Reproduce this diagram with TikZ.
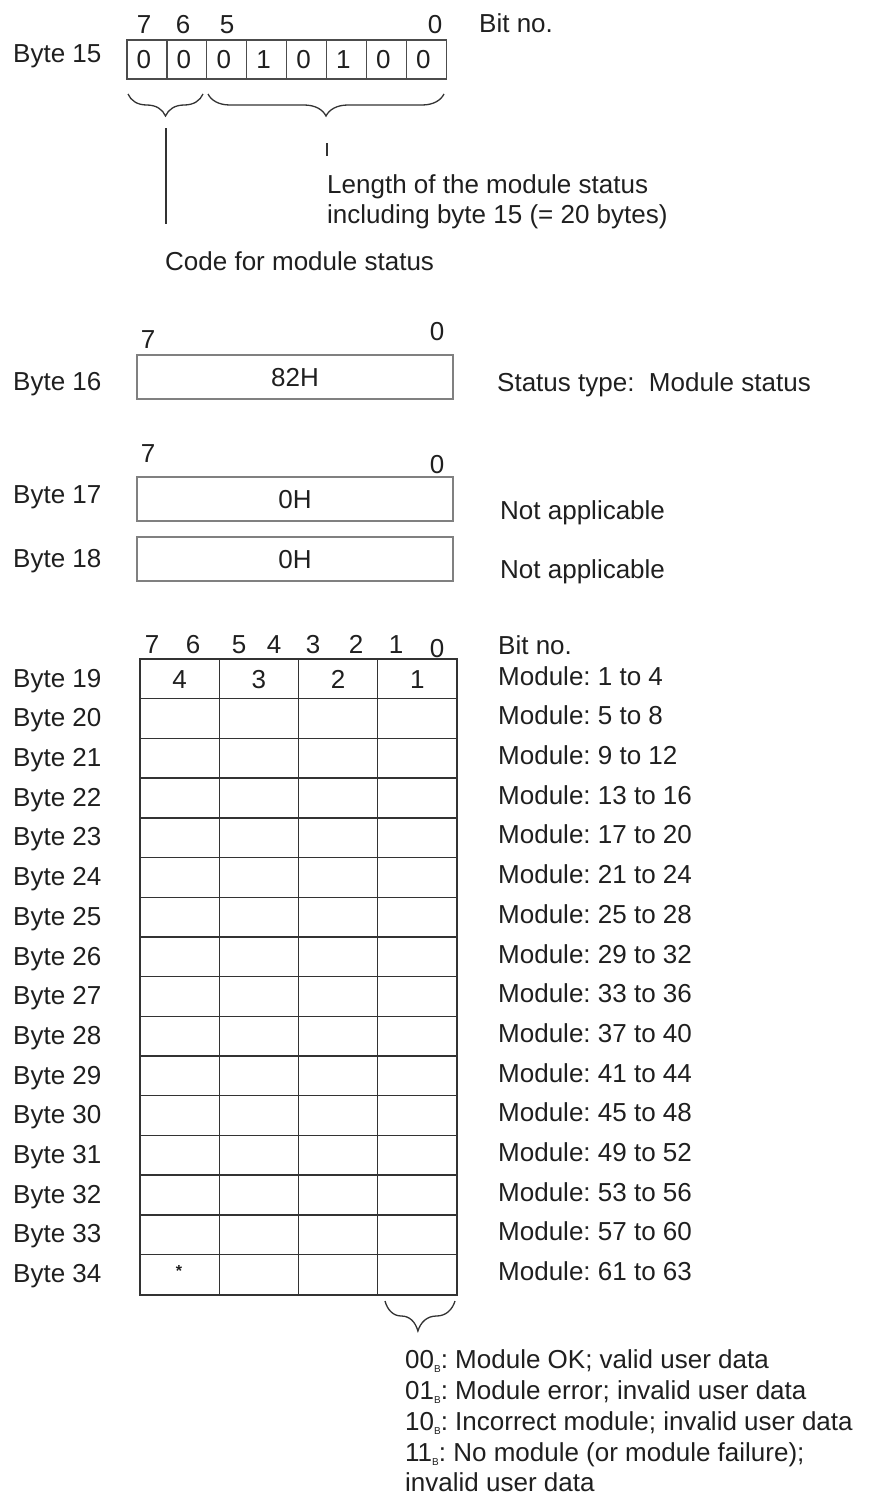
\documentclass[tikz,border=0pt]{standalone}
\usepackage{fontspec}
\setmainfont{Liberation Sans}
\usetikzlibrary{decorations.pathreplacing}
\newcommand\subB{\raisebox{-4pt}{\fontsize{10}{10}\selectfont B}}
\frenchspacing
\begin{document}
\frenchspacing
\begin{tikzpicture}[x=1pt,y=-1pt,
  lbl/.style={anchor=west, inner sep=0pt, text height=18.6pt, text depth=0pt,
    font=\fontsize{26}{30}\selectfont\frenchspacing, text=black!88},
  ctr/.style={lbl, anchor=center},
  bitcell/.style={draw=black!70, line width=1.3pt, minimum width=39.9pt, minimum height=39pt,
    inner sep=0pt, text height=18.6pt, text depth=0pt, font=\fontsize{26}{30}\selectfont, text=black!88},
  bytebox/.style={draw=black!50, line width=1.8pt, minimum width=316pt, minimum height=44pt,
    inner sep=0pt, text height=18.6pt, text depth=0pt, font=\fontsize{26}{30}\selectfont, text=black!88},
  gcell/.style={draw=black!80, line width=1.4pt, minimum width=79.25pt, minimum height=39.7pt,
    inner sep=0pt, text height=18.6pt, text depth=0pt, font=\fontsize{26}{30}\selectfont, text=black!88},
  bracedec/.style={decorate, draw=black!80, line width=1.3pt},
  conn/.style={draw=black!80, line width=1.3pt}]
\useasboundingbox (0,0) rectangle (877,1499);

% ---- Byte 15 ----
\node[lbl] (l15) at (13,53) {Byte 15};
\foreach \v [count=\i from 0] in {0,0,0,1,0,1,0,0} {
  \node[bitcell] (c15-\i) at ({127+39.9*(\i+0.5)},59.5) {\hspace{-6pt}\v};
}
\node[ctr] (h15a) at (144,24) {7};
\node[ctr] (h15b) at (183,24) {6};
\node[ctr] (h15c) at (227,24) {5};
\node[ctr] (h15d) at (435,24) {0};
\node[lbl] (bitno1) at (479,23) {Bit no.};

\coordinate (br1s) at (128,94);
\coordinate (br1e) at (203,94);
\coordinate (br2s) at (208,94);
\coordinate (br2e) at (444,94);
\draw[bracedec, decoration={brace, mirror, amplitude=22pt}] (br1s) -- (br1e);
\draw[bracedec, decoration={brace, mirror, amplitude=22pt}] (br2s) -- (br2e);

\coordinate (v1a) at (166,128);
\coordinate (v2a) at (327,143);
\node[lbl] (len1) at (327,184) {Length of the module status};
\node[lbl] (len2) at (327,214) {including byte 15 (= 20 bytes)};
\node[lbl] (code) at (165,261) {Code for module status};
\draw[conn] (v1a) -- (166,224);
\draw[conn] (v2a) -- (327,156);

% ---- Byte 16 ----
\node[ctr] (h16a) at (148,339) {7};
\node[ctr] (h16b) at (437,331) {0};
\node[lbl] (l16) at (13,381) {Byte 16};
\node[bytebox] (b16) at (295,377) {82H};
\node[lbl] (s16) at (497,382) {Status type:\ \ Module status};

% ---- Byte 17 / 18 ----
\node[ctr] (h17a) at (148,453) {7};
\node[ctr] (h17b) at (437,464) {0};
\node[lbl] (l17) at (13,494) {Byte 17};
\node[bytebox] (b17) at (295,499) {0H};
\node[lbl] (s17) at (500,510) {Not applicable};
\node[lbl] (l18) at (13,558) {Byte 18};
\node[bytebox] (b18) at (295,559) {0H};
\node[lbl] (s18) at (500,569) {Not applicable};

% ---- Byte 19..34 grid ----
\foreach \t/\x in {7/152,6/193,5/239,4/274,3/313,2/356,1/396} {
  \node[ctr] (hg\t) at (\x,644) {\t};
}
\node[ctr] (hg0) at (437,648) {0};
\node[lbl] (bitno2) at (498,645) {Bit no.};

\foreach \r [count=\b from 19] in {0,...,15} {
  \foreach \c in {0,...,3} {
    \node[gcell] (g-\r-\c) at ({140+79.25*(\c+0.5)},{659+39.7*(\r+0.5)}) {};
  }
  \node[lbl] (lb\b) at (13,{659+39.7*(\r+0.5)-1}) {Byte \b};
}
\draw[draw=black!80, line width=1.4pt] (g-0-0.north west) rectangle (g-15-3.south east);
\foreach \c/\m in {0/4,1/3,2/2,3/1} {
  \node[ctr] (m\m) at (g-0-\c) {\m};
}
\node[ctr, text height=8pt, font=\fontsize{16}{16}\selectfont\bfseries] (star) at (179,1272) {*};

\foreach \r/\txt in {0/{1 to 4},1/{5 to 8},2/{9 to 12},3/{13 to 16},4/{17 to 20},5/{21 to 24},
  6/{25 to 28},7/{29 to 32},8/{33 to 36},9/{37 to 40},10/{41 to 44},11/{45 to 48},
  12/{49 to 52},13/{53 to 56},14/{57 to 60},15/{61 to 63}} {
  \node[lbl] (mod\r) at (498,{659+39.7*(\r+0.5)-3}) {Module: \txt};
}

% ---- bottom brace and legend ----
\coordinate (br3s) at (385,1301);
\coordinate (br3e) at (455,1301);
\draw[bracedec, decoration={brace, mirror, amplitude=30pt, aspect=0.47}] (br3s) -- (br3e);

\node[lbl] (lg1) at (405,1359) {00\subB: Module OK; valid user data};
\node[lbl] (lg2) at (405,1390) {01\subB: Module error; invalid user data};
\node[lbl] (lg3) at (405,1421) {10\subB: Incorrect module; invalid user data};
\node[lbl] (lg4) at (405,1452) {11\subB: No module (or module failure);};
\node[lbl] (lg5) at (405,1482) {invalid user data};
\end{tikzpicture}
\end{document}
